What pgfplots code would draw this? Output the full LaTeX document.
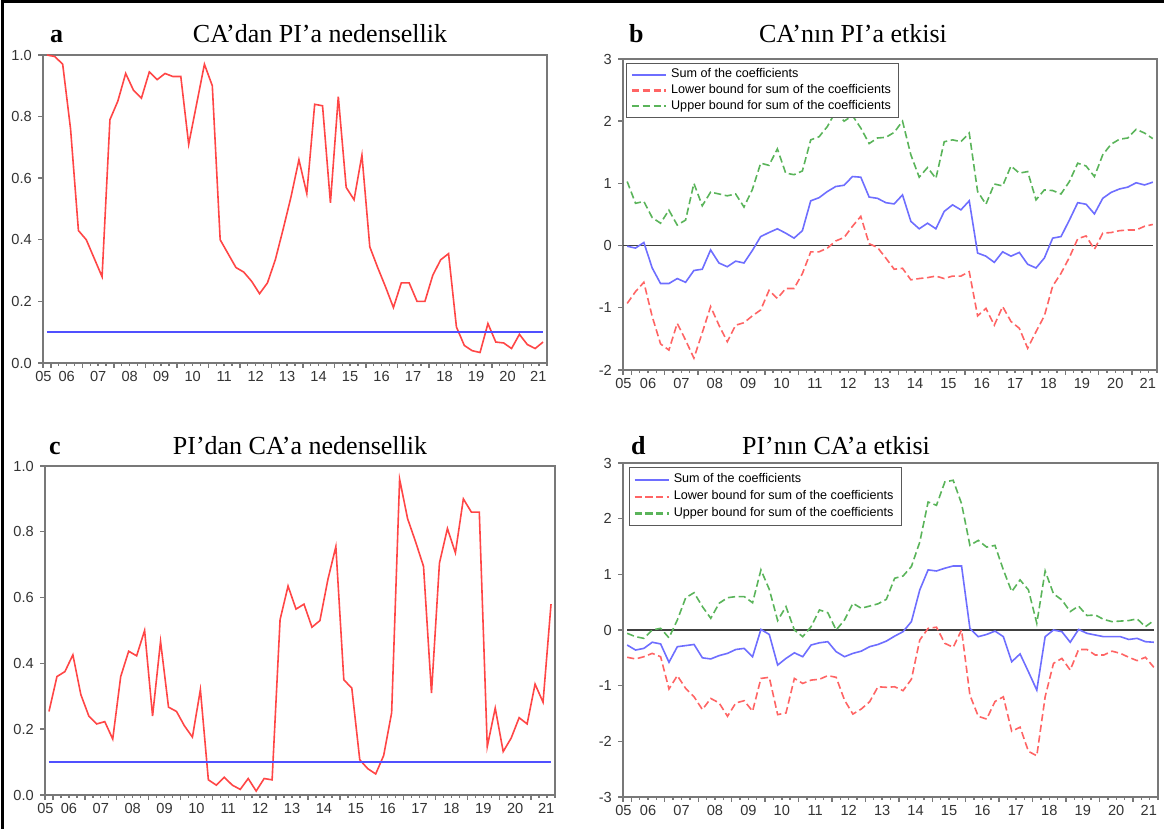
\documentclass[border=0pt]{standalone}
\usepackage{fontspec}
\setmainfont{Liberation Serif}
\setsansfont{Liberation Sans}
\usepackage{pgfplots}
\pgfplotsset{compat=1.18}
\usepackage{pgfplotstable}

\definecolor{redln}{RGB}{255,70,70}
\definecolor{blueln}{RGB}{80,80,255}
\definecolor{sumln}{RGB}{110,110,255}
\definecolor{lowln}{RGB}{255,100,100}
\definecolor{upln}{RGB}{90,180,90}
\definecolor{axgray}{RGB}{120,120,120}

% panel a: CA -> PI p-values (quarterly, 2005Q4-2021Q3)
\pgfplotstableread{
i p
0 1.00
1 0.995
2 0.97
3 0.76
4 0.43
5 0.40
6 0.34
7 0.28
8 0.79
9 0.85
10 0.94
11 0.885
12 0.86
13 0.945
14 0.92
15 0.94
16 0.93
17 0.93
18 0.71
19 0.84
20 0.97
21 0.90
22 0.40
23 0.355
24 0.31
25 0.295
26 0.265
27 0.225
28 0.26
29 0.335
30 0.435
31 0.54
32 0.66
33 0.55
34 0.84
35 0.835
36 0.52
37 0.865
38 0.57
39 0.53
40 0.675
41 0.377
42 0.31
43 0.247
44 0.18
45 0.26
46 0.26
47 0.20
48 0.20
49 0.285
50 0.335
51 0.355
52 0.117
53 0.057
54 0.04
55 0.034
56 0.128
57 0.068
58 0.065
59 0.047
60 0.093
61 0.06
62 0.047
63 0.068
}\tabA

% panel b: sum of coefficients with bounds
\pgfplotstableread{
i s lo up
0 -0.01 -0.93 1.03
1 -0.04 -0.74 0.68
2 0.05 -0.59 0.71
3 -0.36 -1.14 0.45
4 -0.61 -1.58 0.36
5 -0.61 -1.68 0.57
6 -0.53 -1.25 0.33
7 -0.59 -1.52 0.41
8 -0.40 -1.81 1.00
9 -0.38 -1.40 0.64
10 -0.07 -0.98 0.86
11 -0.28 -1.28 0.83
12 -0.34 -1.545 0.80
13 -0.25 -1.28 0.83
14 -0.28 -1.24 0.62
15 -0.08 -1.13 0.90
16 0.145 -1.035 1.325
17 0.21 -0.72 1.29
18 0.27 -0.85 1.555
19 0.20 -0.69 1.165
20 0.12 -0.69 1.14
21 0.24 -0.45 1.20
22 0.72 -0.10 1.70
23 0.77 -0.10 1.75
24 0.87 -0.04 1.915
25 0.95 0.075 2.16
26 0.97 0.13 2.00
27 1.11 0.31 2.09
28 1.10 0.47 1.89
29 0.78 0.03 1.64
30 0.76 -0.03 1.73
31 0.69 -0.20 1.74
32 0.67 -0.38 1.82
33 0.815 -0.365 2.00
34 0.39 -0.55 1.46
35 0.27 -0.53 1.10
36 0.36 -0.515 1.255
37 0.27 -0.49 1.08
38 0.55 -0.53 1.67
39 0.655 -0.49 1.70
40 0.575 -0.49 1.67
41 0.72 -0.42 1.81
42 -0.12 -1.13 0.87
43 -0.17 -1.01 0.665
44 -0.27 -1.28 0.99
45 -0.10 -0.98 0.96
46 -0.17 -1.22 1.28
47 -0.11 -1.33 1.165
48 -0.30 -1.65 1.19
49 -0.36 -1.385 0.735
50 -0.20 -1.13 0.895
51 0.12 -0.65 0.885
52 0.145 -0.445 0.83
53 0.41 -0.19 1.03
54 0.69 0.11 1.325
55 0.665 0.155 1.28
56 0.51 -0.06 1.11
57 0.76 0.20 1.46
58 0.855 0.21 1.63
59 0.91 0.24 1.71
60 0.94 0.25 1.73
61 1.01 0.25 1.87
62 0.975 0.31 1.81
63 1.02 0.34 1.72
}\tabB

% panel c: PI -> CA p-values
\pgfplotstableread{
i p
0 0.254
1 0.36
2 0.375
3 0.426
4 0.305
5 0.24
6 0.216
7 0.223
8 0.17
9 0.36
10 0.437
11 0.423
12 0.50
13 0.24
14 0.467
15 0.267
16 0.254
17 0.21
18 0.176
19 0.32
20 0.046
21 0.03
22 0.054
23 0.03
24 0.017
25 0.05
26 0.012
27 0.05
28 0.046
29 0.533
30 0.635
31 0.565
32 0.58
33 0.51
34 0.53
35 0.655
36 0.755
37 0.35
38 0.325
39 0.107
40 0.08
41 0.064
42 0.12
43 0.25
44 0.96
45 0.84
46 0.77
47 0.695
48 0.31
49 0.705
50 0.81
51 0.736
52 0.90
53 0.86
54 0.86
55 0.147
56 0.264
57 0.132
58 0.173
59 0.235
60 0.216
61 0.337
62 0.282
63 0.58
}\tabC

% panel d
\pgfplotstableread{
i s lo up
0 -0.27 -0.49 -0.06
1 -0.36 -0.52 -0.12
2 -0.33 -0.48 -0.15
3 -0.22 -0.42 0.00
4 -0.25 -0.48 0.03
5 -0.58 -1.06 -0.14
6 -0.30 -0.82 0.18
7 -0.28 -1.05 0.58
8 -0.26 -1.20 0.67
9 -0.50 -1.43 0.42
10 -0.52 -1.23 0.21
11 -0.46 -1.31 0.48
12 -0.42 -1.55 0.58
13 -0.35 -1.31 0.60
14 -0.33 -1.27 0.60
15 -0.48 -1.46 0.49
16 0.01 -0.87 1.08
17 -0.08 -0.85 0.73
18 -0.63 -1.52 0.17
19 -0.51 -1.49 0.42
20 -0.41 -0.87 0.00
21 -0.48 -0.96 -0.12
22 -0.27 -0.90 0.06
23 -0.23 -0.885 0.36
24 -0.21 -0.82 0.31
25 -0.39 -0.85 0.00
26 -0.48 -1.26 0.18
27 -0.42 -1.51 0.48
28 -0.38 -1.42 0.39
29 -0.30 -1.29 0.43
30 -0.26 -1.02 0.47
31 -0.20 -1.03 0.55
32 -0.11 -1.02 0.93
33 -0.03 -1.09 0.97
34 0.15 -0.885 1.14
35 0.72 -0.18 1.58
36 1.08 0.03 2.30
37 1.06 0.05 2.24
38 1.11 -0.24 2.66
39 1.15 -0.31 2.69
40 1.15 0.00 2.27
41 0.03 -1.17 1.52
42 -0.12 -1.55 1.61
43 -0.08 -1.60 1.49
44 -0.02 -1.285 1.52
45 -0.12 -1.20 1.08
46 -0.57 -1.82 0.69
47 -0.43 -1.745 0.90
48 -0.75 -2.18 0.72
49 -1.08 -2.26 0.12
50 -0.12 -1.20 1.06
51 0.00 -0.60 0.65
52 -0.03 -0.51 0.54
53 -0.22 -0.72 0.33
54 0.01 -0.35 0.43
55 -0.06 -0.35 0.26
56 -0.09 -0.45 0.27
57 -0.12 -0.45 0.19
58 -0.12 -0.38 0.15
59 -0.12 -0.42 0.16
60 -0.17 -0.49 0.17
61 -0.15 -0.55 0.20
62 -0.21 -0.49 0.06
63 -0.22 -0.67 0.17
}\tabD

\pgfplotsset{
  eviews/.style={
    scale only axis,
    xmin=-0.5, xmax=63.5,
    axis line style={draw=axgray, line width=0.9pt},
    tick align=outside,
    xtick pos=bottom, ytick pos=left,
    xtick={-0.5,0.5,4.5,...,60.5},
    xticklabels={},
    minor xtick={-0.5,0.5,...,63.5},
    major tick length=2.4pt,
    minor tick length=1.4pt,
    every tick/.style={draw=axgray, line width=0.7pt},
    extra x ticks={-0.45,2.5,6.5,10.5,14.5,18.5,22.5,26.5,30.5,34.5,38.5,42.5,46.5,50.5,54.5,58.5,62.4},
    extra x tick labels={05,06,07,08,09,10,11,12,13,14,15,16,17,18,19,20,21},
    extra x tick style={major tick length=0pt},
    tick label style={font=\sffamily\fontsize{7.3}{8}\selectfont, text=black!80},
    xticklabel style={yshift=-0.8pt},
    yticklabel style={xshift=0.3pt},
  },
  pval/.style={eviews, ymin=0, ymax=1,
    ytick={0,0.2,0.4,0.6,0.8,1.0},
    yticklabels={0.0,0.2,0.4,0.6,0.8,1.0}},
  coefleg/.style={
    legend style={anchor=north west,
      draw=black!65, line width=0.6pt, fill=white,
      font=\sffamily\fontsize{6.3}{6.8}\selectfont,
      inner xsep=2pt, cells={anchor=west}},
    legend image post style={line width=1.1pt},
  },
}

\begin{document}
\begin{tikzpicture}
\path[use as bounding box] (0,0) rectangle (582pt,414.5pt);
\draw[black, line width=1.5pt] (1.2pt,0pt) -- (1.2pt,413.8pt) -- (582pt,413.8pt);

% titles
\node[anchor=base west, font=\bfseries\fontsize{13}{15}\selectfont] at (21.5pt,393pt) {a};
\node[anchor=base, font=\fontsize{13}{15}\selectfont] at (160pt,393pt) {CA’dan PI’a nedensellik};
\node[anchor=base west, font=\bfseries\fontsize{13}{15}\selectfont] at (311pt,393pt) {b};
\node[anchor=base, font=\fontsize{13}{15}\selectfont] at (426.5pt,393pt) {CA’nın PI’a etkisi};
\node[anchor=base west, font=\bfseries\fontsize{13}{15}\selectfont] at (21pt,187pt) {c};
\node[anchor=base, font=\fontsize{13}{15}\selectfont] at (150pt,187pt) {PI’dan CA’a nedensellik};
\node[anchor=base west, font=\bfseries\fontsize{13}{15}\selectfont] at (312pt,187pt) {d};
\node[anchor=base, font=\fontsize{13}{15}\selectfont] at (418pt,187pt) {PI’nın CA’a etkisi};

% panel a
\begin{axis}[pval, at={(21.5pt,233pt)}, anchor=south west, width=252pt, height=154pt]
\addplot[redln, line width=0.8pt] table[x=i, y=p] {\tabA};
\addplot[blueln, line width=0.8pt] coordinates {(0,0.1) (63,0.1)};
\end{axis}

% panel b
\begin{axis}[eviews, coefleg, at={(311.5pt,229.5pt)}, anchor=south west, width=267pt, height=155.5pt,
  ymin=-2, ymax=3, ytick={-2,-1,0,1,2,3}, yticklabels={-2,-1,0,1,2,3},
  legend style={at={(axis description cs:0.006,0.987)}, inner ysep=0.5pt, row sep=-2.2pt}]
\addplot[black!75, line width=0.7pt, forget plot] coordinates {(-0.5,0) (63,0)};
\addplot[sumln, line width=0.8pt] table[x=i, y=s] {\tabB};
\addlegendentry{Sum of the coefficients}
\addplot[lowln, line width=0.8pt, dash pattern=on 3.6pt off 1.8pt] table[x=i, y=lo] {\tabB};
\addlegendentry{Lower bound for sum of the coefficients}
\addplot[upln, line width=0.8pt, dash pattern=on 3.6pt off 1.8pt] table[x=i, y=up] {\tabB};
\addlegendentry{Upper bound for sum of the coefficients}
\end{axis}

% panel c
\begin{axis}[pval, at={(22.5pt,17pt)}, anchor=south west, width=255pt, height=164.5pt]
\addplot[redln, line width=0.8pt] table[x=i, y=p] {\tabC};
\addplot[blueln, line width=0.8pt] coordinates {(0,0.1) (63,0.1)};
\end{axis}

% panel d
\begin{axis}[eviews, coefleg, at={(311.5pt,16pt)}, anchor=south west, width=267.5pt, height=167pt,
  ymin=-3, ymax=3, ytick={-3,-2,-1,0,1,2,3}, yticklabels={-3,-2,-1,0,1,2,3},
  legend style={at={(axis description cs:0.011,0.988)}, inner ysep=1pt, row sep=-1.6pt}]
\addplot[black!75, line width=0.7pt, forget plot] coordinates {(0,0) (63,0)};
\addplot[sumln, line width=0.8pt] table[x=i, y=s] {\tabD};
\addlegendentry{Sum of the coefficients}
\addplot[lowln, line width=0.8pt, dash pattern=on 3.6pt off 1.8pt] table[x=i, y=lo] {\tabD};
\addlegendentry{Lower bound for sum of the coefficients}
\addplot[upln, line width=0.8pt, dash pattern=on 3.6pt off 1.8pt] table[x=i, y=up] {\tabD};
\addlegendentry{Upper bound for sum of the coefficients}
\end{axis}
\end{tikzpicture}
\end{document}
